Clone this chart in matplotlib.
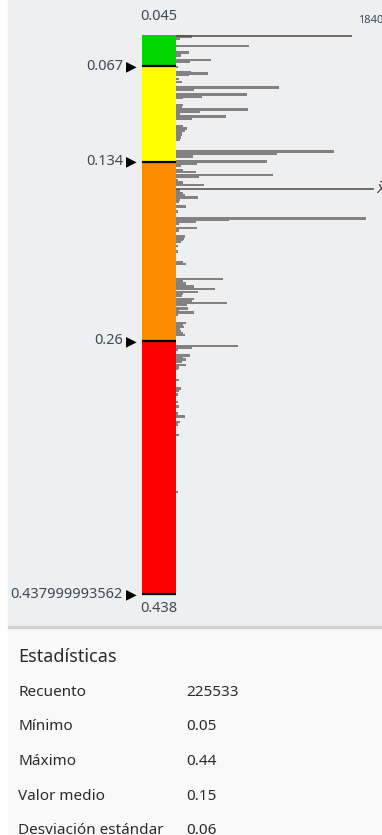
import matplotlib.pyplot as plt
from matplotlib.patches import Rectangle
from matplotlib.transforms import blended_transform_factory

# class breaks and colours
class_breaks = [0.045, 0.067, 0.134, 0.26, 0.438]
break_labels = ['0.067', '0.134', '0.26', '0.437999993562']
class_colors = ['#00d700', '#ffff00', '#ff8c00', '#ff0000']

# histogram bins (value, count)
bin_values = [0.0462, 0.0476, 0.0527, 0.0574, 0.0593, 0.0626, 0.0640, 0.0675, 0.0710, 0.0722,
              0.0733, 0.0761, 0.0780, 0.0820, 0.0835, 0.0867, 0.0881, 0.0893, 0.0942, 0.0960,
              0.0975, 0.0989, 0.1007, 0.1024, 0.1041, 0.1088, 0.1106, 0.1120, 0.1135, 0.1153,
              0.1171, 0.1188, 0.1270, 0.1287, 0.1303, 0.1339, 0.1355, 0.1371, 0.1399, 0.1413,
              0.1436, 0.1450, 0.1469, 0.1488, 0.1504, 0.1543, 0.1563, 0.1577, 0.1591, 0.1606,
              0.1622, 0.1657, 0.1692, 0.1739, 0.1751, 0.1763, 0.1779, 0.1805, 0.1823, 0.1868,
              0.1881, 0.1891, 0.1907, 0.1933, 0.1973, 0.2044, 0.2062, 0.2165, 0.2183, 0.2198,
              0.2219, 0.2236, 0.2255, 0.2271, 0.2281, 0.2308, 0.2325, 0.2336, 0.2350, 0.2374,
              0.2388, 0.2402, 0.2418, 0.2473, 0.2484, 0.2501, 0.2519, 0.2534, 0.2547, 0.2559,
              0.2636, 0.2650, 0.2664, 0.2703, 0.2716, 0.2731, 0.2749, 0.2770, 0.2789, 0.2798,
              0.2875, 0.2934, 0.2953, 0.2976, 0.3032, 0.3063, 0.3110, 0.3131, 0.3169, 0.3187,
              0.3262, 0.3661]
bin_counts = [1640, 420, 7670, 1360, 490, 3630, 1460, 210, 1540, 3350,
              1330, 310, 630, 10740, 1910, 7400, 2750, 730, 700, 630,
              7560, 2510, 420, 5230, 1640, 760, 1180, 940, 630, 600,
              520, 470, 16530, 10600, 1810, 9550, 2200, 520, 760, 2090,
              10180, 2440, 210, 760, 2930, 420, 700, 940, 2330, 420,
              350, 1050, 210, 19840, 5580, 2090, 310, 2200, 350, 940,
              840, 760, 490, 210, 240, 760, 1050, 4950, 730, 1050,
              1880, 4080, 2330, 760, 600, 1880, 1640, 5370, 1120, 1290,
              350, 1880, 210, 1050, 760, 840, 420, 520, 760, 940,
              6520, 1640, 210, 1460, 760, 1050, 630, 1050, 350, 210,
              280, 490, 350, 210, 210, 350, 210, 940, 420, 210,
              350, 210]

max_count = 18406
max_line_value = 0.0455
mean_value = 0.153

stat_names = ['Recuento', 'Mínimo', 'Máximo', 'Valor medio', 'Desviación estándar']
stat_values = ['225533', '0.05', '0.44', '0.15', '0.06']

W, H = 382, 835
FONT = 'Noto Sans'
LABEL_COLOR = '#3f4a57'
TEXT_COLOR = '#2b2b2b'

fig = plt.figure(figsize=(W / 100, H / 100), dpi=100)
fig.patch.set_facecolor('white')

def fx(px):
    return px / W

def fy(py):
    return 1 - py / H

# panel backgrounds
fig.patches.append(Rectangle((fx(8), fy(626)), fx(W - 8), 626 / H,
                             transform=fig.transFigure, color='#eeeff1', zorder=-2))
fig.patches.append(Rectangle((fx(8), 0), fx(W - 8), fy(627),
                             transform=fig.transFigure, color='#f9f9f9', zorder=-2))
fig.patches.append(Rectangle((fx(8), fy(627.5)), fx(W - 8), 1.2 / H,
                             transform=fig.transFigure, color='#d2d2d2', zorder=-1))

top_px, bot_px = 35, 594
px_per_count = 1 / 104.6

# histogram
ax = fig.add_axes([fx(176), fy(bot_px), fx(W - 176), (bot_px - top_px) / H])
ax.set_ylim(class_breaks[-1], class_breaks[0])
ax.set_xlim(0, (W - 176) / px_per_count)
ax.axis('off')
ax.patch.set_alpha(0)
ax.barh(bin_values, bin_counts, height=0.0017, color='#828282', linewidth=0)
ax.hlines(max_line_value, 0, max_count, color='#4a4a4a', lw=1.1)
ax.annotate('18406', (max_count, max_line_value), xytext=(6, 15),
            textcoords='offset pixels', fontsize=8, family=FONT,
            color=LABEL_COLOR, ha='left', va='center', annotation_clip=False)
trans_mean = blended_transform_factory(ax.transAxes, ax.transData)
ax.hlines(mean_value, 0, 0.961, transform=trans_mean, color='#4a4a4a', lw=1.1)
ax.text(0.97, mean_value, r'$\bar{x}$', transform=trans_mean, fontsize=11,
        color='#5a4a3a', ha='left', va='center', clip_on=False)

# colour classes
axc = fig.add_axes([fx(142), fy(bot_px), fx(34), (bot_px - top_px) / H])
axc.set_ylim(class_breaks[-1], class_breaks[0])
axc.set_xlim(0, 1)
axc.axis('off')
for lo, hi, c in zip(class_breaks[:-1], class_breaks[1:], class_colors):
    axc.bar(0, hi - lo, bottom=lo, width=1, align='edge', color=c, linewidth=0)
axc.hlines(class_breaks[1:], 0, 1, color='black', lw=1.6, clip_on=False)

trans_lbl = blended_transform_factory(fig.transFigure, axc.transData)
for b, lbl in zip(class_breaks[1:], break_labels):
    axc.text(fx(123), b, lbl, transform=trans_lbl, ha='right', va='center',
             fontsize=10.5, family=FONT, color=LABEL_COLOR, clip_on=False)
    axc.text(fx(131), b, '\u25b6', transform=trans_lbl, ha='center', va='center',
             fontsize=10, family='DejaVu Sans', color='black', clip_on=False)

fig.text(fx(159), fy(17), '0.045', ha='center', va='center', fontsize=10.5,
         family=FONT, color=LABEL_COLOR)
fig.text(fx(159), fy(609), '0.438', ha='center', va='center', fontsize=10.5,
         family=FONT, color=LABEL_COLOR)

# statistics table
fig.text(fx(18), fy(657), 'Estadísticas', ha='left', va='center', fontsize=13,
         family=FONT, fontweight='semibold', color=TEXT_COLOR)
for i, (name, val) in enumerate(zip(stat_names, stat_values)):
    y = 692 + i * 34.7
    fig.text(fx(18), fy(y), name, ha='left', va='center', fontsize=11,
             family=FONT, color=TEXT_COLOR)
    fig.text(fx(186), fy(y), val, ha='left', va='center', fontsize=11,
             family=FONT, color=TEXT_COLOR)

fig.savefig('out.png', dpi=100)
